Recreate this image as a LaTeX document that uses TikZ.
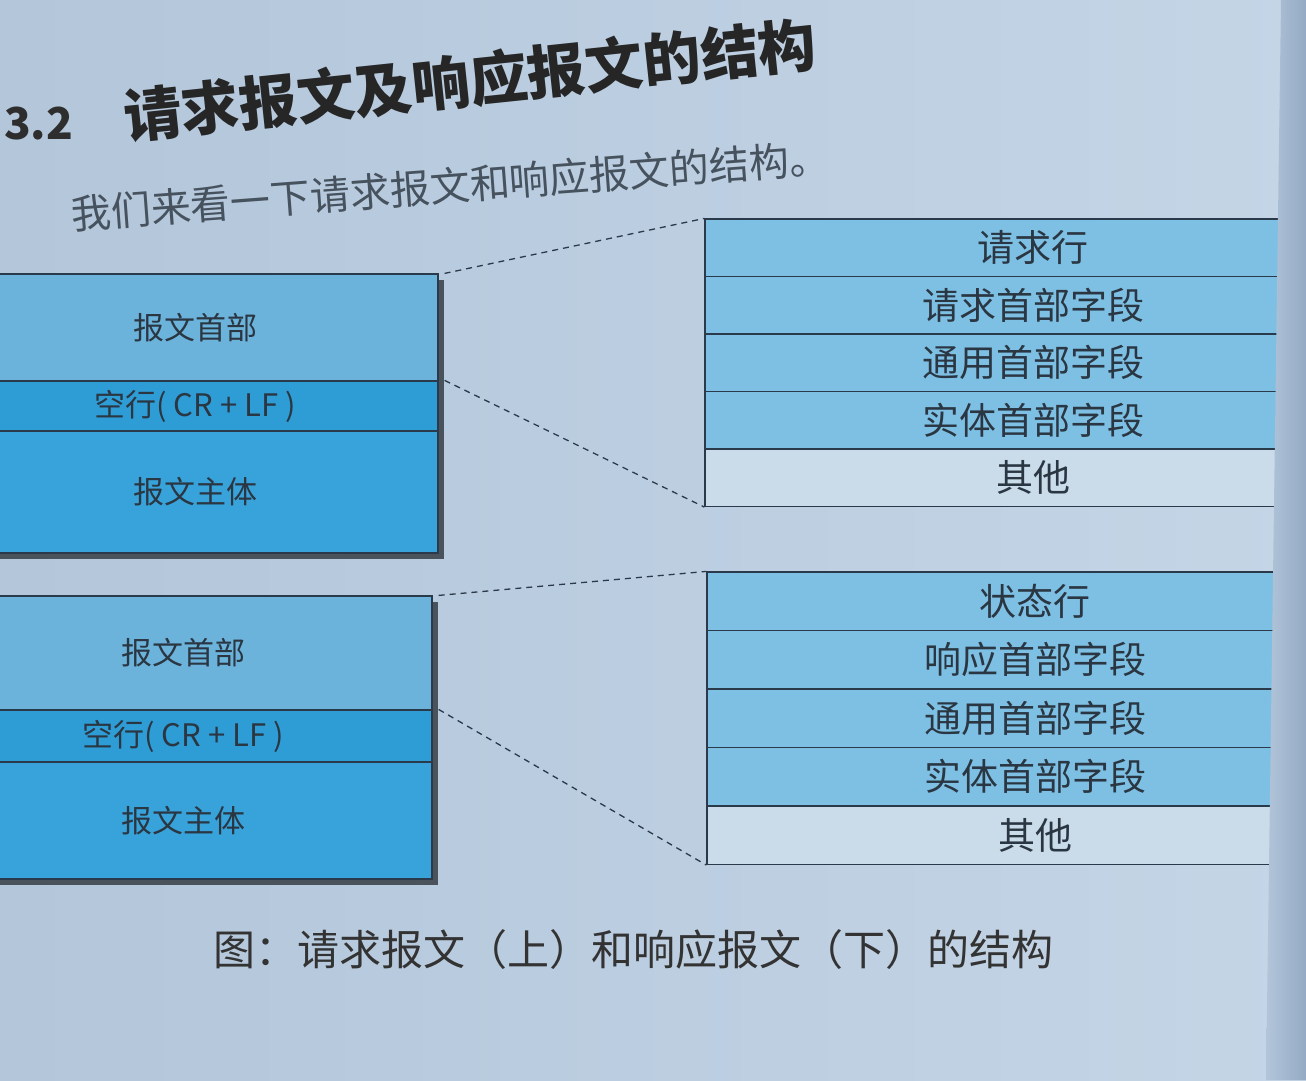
\documentclass[tikz,border=0pt]{standalone}
\usepackage{fontspec}
\newfontfamily\cjk{Noto Sans CJK SC}
\definecolor{pageL}{HTML}{B3C6DA}
\definecolor{pageR}{HTML}{C4D5E6}
\definecolor{gutterL}{HTML}{B2C5DA}
\definecolor{gutterR}{HTML}{94AAC4}
\definecolor{ln}{HTML}{2B3A4A}
\definecolor{txt}{HTML}{2A3642}
\definecolor{subtxt}{HTML}{46525E}
\definecolor{cLight}{HTML}{6CB3DC}
\definecolor{cMid}{HTML}{2E9DD6}
\definecolor{cDark}{HTML}{38A3DA}
\definecolor{cRight}{HTML}{7EC0E4}
\definecolor{cOther}{HTML}{CADCEA}
\definecolor{shadowc}{HTML}{4A525C}
\begin{document}
\begin{tikzpicture}[x=1pt,y=-1pt,
  every node/.style={font=\cjk, text=txt, inner sep=0pt},
  lrowA/.style={draw=ln, line width=1.2pt, minimum width=486pt, font=\cjk\fontsize{31}{31}\selectfont},
  lrowB/.style={draw=ln, line width=1.2pt, minimum width=498pt, font=\cjk\fontsize{31}{31}\selectfont},
  rrow/.style={draw=ln, line width=1.2pt, minimum width=656pt, font=\cjk\fontsize{37}{37}\selectfont},
  dsh/.style={draw=ln, dash pattern=on 6pt off 5pt, line width=1.3pt},
  shd/.style={fill=shadowc}
]
\useasboundingbox (0,0) rectangle (1306,1080);
\clip (0,0) rectangle (1306,1080);
% page
\shade[left color=pageL, right color=pageR] (0,0) rectangle (1306,1080);

% title
\node[font=\cjk\bfseries\fontsize{44}{44}\selectfont, text=black!82, anchor=base west] (num) at (4,139) {3.2};
\node[font=\cjk\bfseries\fontsize{58}{58}\selectfont, text=black!85, rotate=6] (title) at (470,80) {请求报文及响应报文的结构};
\node[font=\cjk\fontsize{40}{40}\selectfont, text=subtxt, rotate=4.3] (sub) at (450,186) {我们来看一下请求报文和响应报文的结构。};

% ---------- request (top) ----------
\fill[shd] (0,280) rectangle (444,559);
\node[lrowA, fill=cLight, minimum height=107pt] (tl1) at (195,327.5) {报文首部};
\node[lrowA, fill=cMid, minimum height=50pt] (tl2) at (195,406) {空行( CR + LF )};
\node[lrowA, fill=cDark, minimum height=122pt] (tl3) at (195,492) {报文主体};

\node[rrow, fill=cRight, minimum height=57.5pt] (tr1) at (1033,247.75) {请求行};
\node[rrow, fill=cRight, minimum height=57.5pt] (tr2) at (1033,305.25) {请求首部字段};
\node[rrow, fill=cRight, minimum height=57.5pt] (tr3) at (1033,362.75) {通用首部字段};
\node[rrow, fill=cRight, minimum height=57.5pt] (tr4) at (1033,420.25) {实体首部字段};
\node[rrow, fill=cOther, minimum height=57.5pt] (tr5) at (1033,477.75) {其他};

\draw[dsh] ([xshift=6pt]tl1.north east) -- (tr1.north west);
\draw[dsh] ([xshift=6pt]tl2.north east) -- (tr5.south west);

% ---------- response (bottom) ----------
\fill[shd] (0,602) rectangle (438,885);
\node[lrowB, fill=cLight, minimum height=114pt] (bl1) at (183,653) {报文首部};
\node[lrowB, fill=cMid, minimum height=52pt] (bl2) at (183,736) {空行( CR + LF )};
\node[lrowB, fill=cDark, minimum height=117pt] (bl3) at (183,820.5) {报文主体};

\node[rrow, fill=cRight, minimum height=58.5pt] (br1) at (1035,601.25) {状态行};
\node[rrow, fill=cRight, minimum height=58.5pt] (br2) at (1035,659.75) {响应首部字段};
\node[rrow, fill=cRight, minimum height=58.5pt] (br3) at (1035,718.25) {通用首部字段};
\node[rrow, fill=cRight, minimum height=58.5pt] (br4) at (1035,776.75) {实体首部字段};
\node[rrow, fill=cOther, minimum height=58.5pt] (br5) at (1035,835.25) {其他};

\draw[dsh] ([xshift=6pt]bl1.north east) -- (br1.north west);
\draw[dsh] ([xshift=6pt]bl2.north east) -- (br5.south west);

% page edge at the right
\shade[left color=gutterL, right color=gutterR] (1281,0) -- (1306,0) -- (1306,1080) -- (1266,1080) -- cycle;

% caption
\node[font=\cjk\fontsize{42}{42}\selectfont, text=black!80] (cap) at (633,950) {图：请求报文（上）和响应报文（下）的结构};
\end{tikzpicture}
\end{document}
